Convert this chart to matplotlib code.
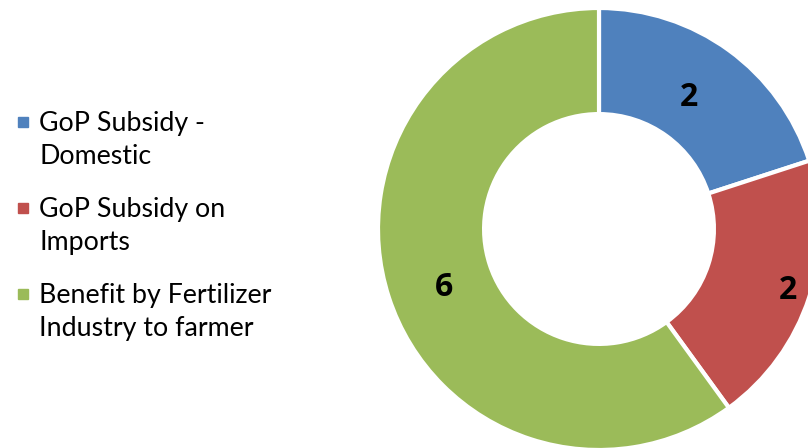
import numpy as np
import matplotlib.pyplot as plt

# data
categories = ["GoP Subsidy -\nDomestic", "GoP Subsidy on\nImports",
              "Benefit by Fertilizer\nIndustry to farmer"]
values = [2, 2, 6]
colors = ["#4F81BD", "#C0504D", "#9BBB59"]

plt.rcParams['font.family'] = ['Lato', 'DejaVu Sans']

W, H = 808, 448
fig = plt.figure(figsize=(W / 100, H / 100), dpi=100)

# donut, centre ~ (599, 229) px, outer radius ~220 px
cx, cy, R = 599, 229, 221
ax = fig.add_axes([(cx - R) / W, (H - cy - R) / H, 2 * R / W, 2 * R / H])
wedges, _ = ax.pie(values, colors=colors, startangle=90, counterclock=False,
                   radius=1, wedgeprops=dict(width=0.48, edgecolor='white', linewidth=3))
ax.set_xlim(-1, 1)
ax.set_ylim(-1, 1)
ax.set_aspect('auto')
ax.axis('off')

# value labels in the ring (radius fraction, angle nudge in degrees)
label_pos = [(0.72, 1.5), (0.9, 0), (0.75, 2.5)]
for w, v, (r, dt) in zip(wedges, values, label_pos):
    ang = np.deg2rad((w.theta1 + w.theta2) / 2 + dt)
    ax.text(r * np.cos(ang), r * np.sin(ang), str(v), ha='center', va='center',
            fontsize=23, fontweight='bold', family='Open Sans', color='black',
            clip_on=False)

# legend drawn by hand: square marker + two text lines per entry
top = 122        # px, centre of first marker
step = 86        # px between entries
line_gap = 32    # px between the two lines of an entry
for i, (lab, c) in enumerate(zip(categories, colors)):
    yc = top + i * step
    fig.patches.append(plt.Rectangle((18 / W, 1 - (yc + 5) / H), 10 / W, 10 / H,
                                     transform=fig.transFigure, color=c))
    for j, line in enumerate(lab.split("\n")):
        yb = yc + 9.5 + j * line_gap
        fig.text(39 / W, 1 - yb / H, line, fontsize=19.3, va='baseline', ha='left',
                 color='black')

fig.savefig("out.png", dpi=100)
